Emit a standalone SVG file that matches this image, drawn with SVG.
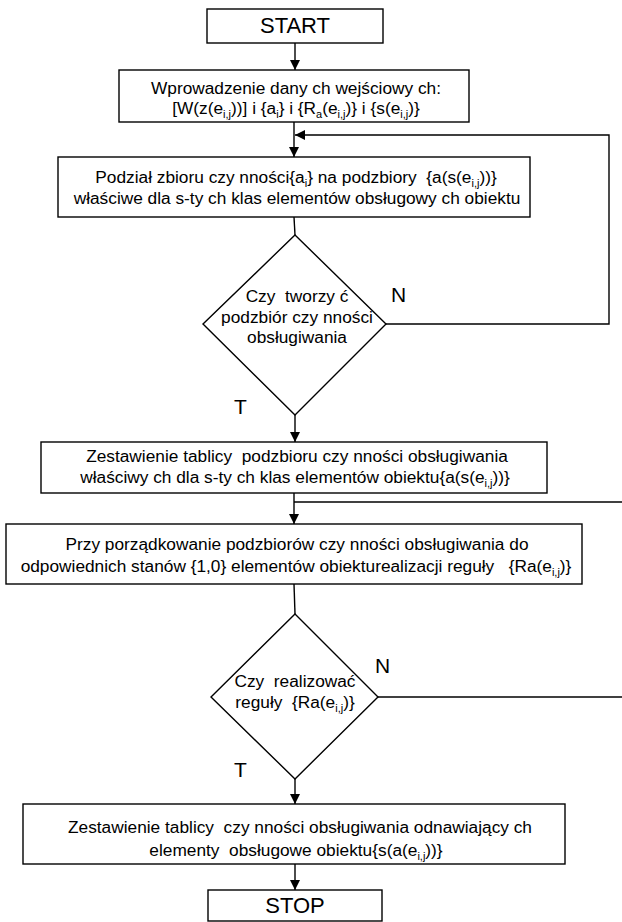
<svg xmlns="http://www.w3.org/2000/svg" width="622" height="922" viewBox="0 0 622 922">
<defs>
<marker id="arr" viewBox="0 0 10 10" refX="10" refY="5" markerWidth="10" markerHeight="10" markerUnits="userSpaceOnUse" orient="auto">
<path d="M0,0 L10,5 L0,10 z" fill="#000"/>
</marker>
</defs>
<style>
.box{fill:#fff;stroke:#000;stroke-width:1.4}
.ln{fill:none;stroke:#000;stroke-width:1.4}
.t{font-family:"Liberation Sans",Arial,sans-serif;font-size:17.3px;fill:#000;text-anchor:middle;white-space:pre}
.big{font-family:"Liberation Sans",Arial,sans-serif;font-size:22px;fill:#000;text-anchor:middle}
.lab{font-family:"Liberation Sans",Arial,sans-serif;font-size:21px;fill:#000}
.s{font-size:11px}
</style>
<rect width="622" height="922" fill="#fff"/>
<g id="connectors">
<line class="ln" x1="295" y1="43" x2="295" y2="70" marker-end="url(#arr)"/>
<line class="ln" x1="294" y1="122" x2="294" y2="157" marker-end="url(#arr)"/>
<polyline class="ln" points="386,324 609,324 609,135 295,135" marker-end="url(#arr)"/>
<line class="ln" x1="294" y1="217" x2="295" y2="235"/>
<line class="ln" x1="295" y1="415" x2="295" y2="442" marker-end="url(#arr)"/>
<line class="ln" x1="294" y1="493" x2="294" y2="524" marker-end="url(#arr)"/>
<line class="ln" x1="294" y1="502" x2="622" y2="502"/>
<line class="ln" x1="294" y1="584" x2="295" y2="614"/>
<line class="ln" x1="378" y1="697" x2="622" y2="697"/>
<line class="ln" x1="295" y1="779" x2="295" y2="804" marker-end="url(#arr)"/>
<line class="ln" x1="295" y1="864" x2="295" y2="890" marker-end="url(#arr)"/>
<text class="lab" x="391" y="302">N</text>
<text class="lab" x="234" y="414">T</text>
<text class="lab" x="375" y="673">N</text>
<text class="lab" x="234" y="777">T</text>
</g>
<g id="start">
<rect class="box" x="207" y="9" width="176" height="34"/>
<text class="big" x="295" y="33">START</text>
</g>
<g id="input">
<rect class="box" x="119" y="70" width="350" height="52"/>
<text class="t" x="296" y="94">Wprowadzenie dany ch wejściowy ch:</text>
<text class="t" x="296" y="114">[W(z(e<tspan class="s" dy="4">i,j</tspan><tspan dy="-4">))] i {a</tspan><tspan class="s" dy="4">i</tspan><tspan dy="-4">} i {R</tspan><tspan class="s" dy="4">a</tspan><tspan dy="-4">(e</tspan><tspan class="s" dy="4">i,j</tspan><tspan dy="-4">)} i {s(e</tspan><tspan class="s" dy="4">i,j</tspan><tspan dy="-4">)}</tspan></text>
</g>
<g id="podzial">
<rect class="box" x="58" y="157" width="472" height="60"/>
<text class="t" x="296" y="183">Podział zbioru czy nności{a<tspan class="s" dy="4">i</tspan><tspan dy="-4">} na podzbiory  {a(s(e</tspan><tspan class="s" dy="4">i,j</tspan><tspan dy="-4">))}</tspan></text>
<text class="t" x="297" y="204">właściwe dla s-ty ch klas elementów obsługowy ch obiektu</text>
</g>
<g id="decision1">
<polygon class="box" points="295,235 386,324 295,415 203,324"/>
<text class="t" x="297" y="302">Czy  tworzy ć</text>
<text class="t" x="297" y="323">podzbiór czy nności</text>
<text class="t" x="297" y="343">obsługiwania</text>
</g>
<g id="zestawienie1">
<rect class="box" x="41" y="442" width="506" height="51"/>
<text class="t" x="297" y="462">Zestawienie tablicy  podzbioru czy nności obsługiwania</text>
<text class="t" x="295" y="483">właściwy ch dla s-ty ch klas elementów obiektu{a(s(e<tspan class="s" dy="4">i,j</tspan><tspan dy="-4">))}</tspan></text>
</g>
<g id="przyporzadkowanie">
<rect class="box" x="6" y="524" width="576" height="60"/>
<text class="t" x="297" y="550">Przy porządkowanie podzbiorów czy nności obsługiwania do</text>
<text class="t" x="296" y="572">odpowiednich stanów {1,0} elementów obiekturealizacji reguły   {Ra(e<tspan class="s" dy="4">i,j</tspan><tspan dy="-4">)}</tspan></text>
</g>
<g id="decision2">
<polygon class="box" points="295,614 378,697 295,779 211,697"/>
<text class="t" x="295" y="687">Czy  realizować</text>
<text class="t" x="295" y="708">reguły  {Ra(e<tspan class="s" dy="4">i,j</tspan><tspan dy="-4">)}</tspan></text>
</g>
<g id="zestawienie2">
<rect class="box" x="23" y="804" width="542" height="60"/>
<text class="t" x="300" y="833">Zestawienie tablicy  czy nności obsługiwania odnawiający ch</text>
<text class="t" x="296" y="856">elementy  obsługowe obiektu{s(a(e<tspan class="s" dy="4">i,j</tspan><tspan dy="-4">))}</tspan></text>
</g>
<g id="stop">
<rect class="box" x="208" y="890" width="174" height="31"/>
<text class="big" x="295" y="913">STOP</text>
</g>
</svg>
